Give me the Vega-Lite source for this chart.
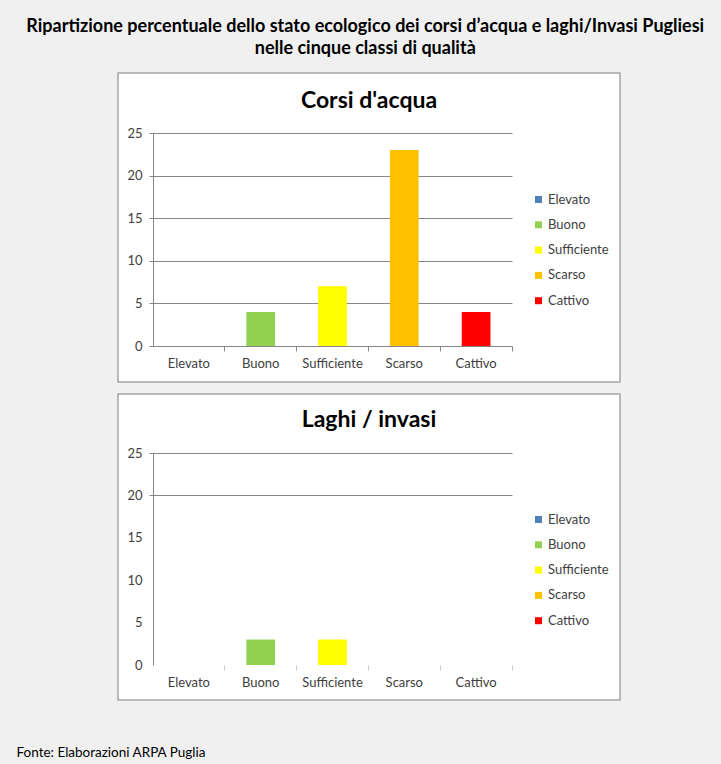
{
  "$schema": "https://vega.github.io/schema/vega-lite/v6.json",
  "autosize": {"type": "none"},
  "padding": {"left": 118, "top": 73, "right": 603, "bottom": 691},
  "background": "#f0f0f0",
  "title": {
    "text": ["Ripartizione percentuale dello stato ecologico dei corsi d’acqua e laghi/Invasi Pugliesi", "nelle cinque classi di qualità"],
    "font": "Lato",
    "fontSize": 18,
    "fontWeight": "bold",
    "color": "#000000",
    "lineHeight": 22,
    "anchor": "start",
    "align": "center",
    "frame": "bounds",
    "baseline": "top",
    "dx": 350,
    "offset": 14
  },
  "datasets": {
    "corsi": [
      {"classe": "Elevato", "valore": 0},
      {"classe": "Buono", "valore": 4},
      {"classe": "Sufficiente", "valore": 7},
      {"classe": "Scarso", "valore": 23},
      {"classe": "Cattivo", "valore": 4}
    ],
    "laghi": [
      {"classe": "Elevato", "valore": 0},
      {"classe": "Buono", "valore": 3},
      {"classe": "Sufficiente", "valore": 3},
      {"classe": "Scarso", "valore": 0},
      {"classe": "Cattivo", "valore": 0}
    ]
  },
  "bounds": "flush",
  "spacing": 12,
  "vconcat": [
    {
      "width": 502,
      "height": 309,
      "data": {"name": "corsi"},
      "title": {"text": "Corsi d'acqua", "offset": -51, "baseline": "middle", "frame": "group"},
      "mark": {"type": "bar"},
      "encoding": {
        "x": {
          "field": "classe", "type": "nominal", "sort": null,
          "scale": {"domain": ["Elevato", "Buono", "Sufficiente", "Scarso", "Cattivo"], "range": [35, 394], "paddingInner": 0.6, "paddingOuter": 0.3},
          "axis": {"offset": -36}
        },
        "y": {
          "field": "valore", "type": "quantitative",
          "scale": {"domain": [0, 25], "range": [273, 60], "nice": false, "zero": true},
          "axis": {"offset": -35, "values": [0, 5, 10, 15, 20, 25]}
        },
        "color": {
          "field": "classe", "type": "nominal",
          "scale": {"domain": ["Elevato", "Buono", "Sufficiente", "Scarso", "Cattivo"], "range": ["#4f81bd", "#92d050", "#ffff00", "#ffc000", "#ff0000"]},
          "legend": {"legendX": 414, "legendY": 120}
        }
      }
    },
    {
      "width": 502,
      "height": 306,
      "data": {"name": "laghi"},
      "title": {"text": "Laghi / invasi", "offset": -49, "baseline": "middle", "frame": "group"},
      "mark": {"type": "bar"},
      "encoding": {
        "x": {
          "field": "classe", "type": "nominal", "sort": null,
          "scale": {"domain": ["Elevato", "Buono", "Sufficiente", "Scarso", "Cattivo"], "range": [35, 394], "paddingInner": 0.6, "paddingOuter": 0.3},
          "axis": {
            "offset": -35,
            "domain": false,
            "tickColor": "#c8c8c8",
            "title": "Fonte: Elaborazioni ARPA Puglia",
            "titleX": -102,
            "titleY": 87,
            "titleAlign": "left",
            "titleBaseline": "middle",
            "titleFont": "Lato",
            "titleFontSize": 13.5,
            "titleFontWeight": "normal",
            "titleColor": "#000000"
          }
        },
        "y": {
          "field": "valore", "type": "quantitative",
          "scale": {"domain": [0, 25], "range": [271, 59], "nice": false, "zero": true},
          "axis": {
            "offset": -35,
            "values": [0, 5, 10, 15, 20, 25],
            "gridOpacity": {"condition": {"test": "datum.value >= 20", "value": 1}, "value": 0},
            "tickOpacity": {"condition": {"test": "datum.value >= 20", "value": 1}, "value": 0}
          }
        },
        "color": {
          "field": "classe", "type": "nominal",
          "scale": {"domain": ["Elevato", "Buono", "Sufficiente", "Scarso", "Cattivo"], "range": ["#4f81bd", "#92d050", "#ffff00", "#ffc000", "#ff0000"]},
          "legend": {"legendX": 414, "legendY": 119}
        }
      }
    }
  ],
  "resolve": {"scale": {"color": "independent", "x": "independent", "y": "independent"}},
  "config": {
    "font": "Lato",
    "view": {"fill": "#ffffff", "stroke": "#a6a6a6", "strokeWidth": 1.5},
    "title": {"font": "Lato", "fontSize": 23, "fontWeight": "bold", "color": "#000000", "anchor": "middle"},
    "axis": {
      "labelFont": "Lato",
      "labelFontSize": 13,
      "labelColor": "#404040",
      "domainColor": "#868686",
      "tickColor": "#868686",
      "gridColor": "#868686",
      "gridWidth": 1,
      "domainWidth": 1,
      "tickWidth": 1,
      "tickSize": 4,
      "title": null
    },
    "axisX": {
      "labelAngle": 0,
      "labelPadding": 6,
      "bandPosition": 1.75,
      "tickSize": 5,
      "grid": false
    },
    "axisY": {
      "grid": true,
      "labelPadding": 7
    },
    "legend": {
      "orient": "none",
      "title": null,
      "symbolType": "square",
      "symbolSize": 49,
      "symbolStrokeWidth": 0,
      "labelFont": "Lato",
      "labelFontSize": 13,
      "labelColor": "#404040",
      "labelOffset": 3,
      "rowPadding": 11.3,
      "padding": 0
    },
    "bar": {"stroke": null}
  }
}
